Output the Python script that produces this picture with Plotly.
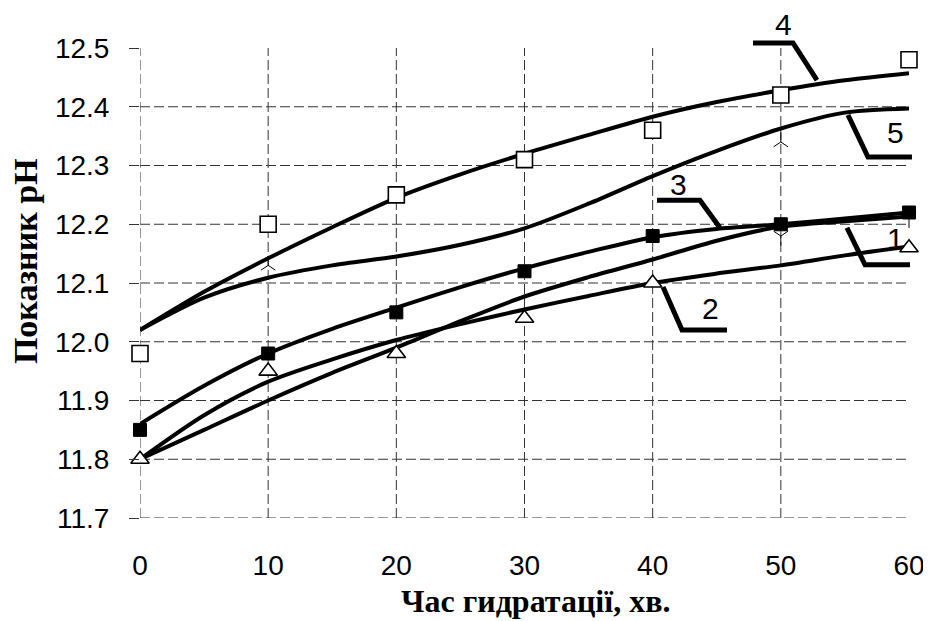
import plotly.graph_objects as go

# ---------------- data ----------------
time_pts = [0, 10, 20, 30, 40, 50, 60]
ph_sq_open = [11.98, 12.20, 12.25, 12.31, 12.36, 12.42, 12.48]      # series 4
ph_sq_fill = [11.85, 11.98, 12.05, 12.12, 12.18, 12.20, 12.22]      # series 3
tri_x = [0, 10, 20, 30, 40, 60]
ph_tri = [11.80, 11.95, 11.98, 12.04, 12.10, 12.16]                 # series 2
yup_x = [10, 50]
ph_yup = [12.13, 12.34]                                             # series 5
ydown_x = [50, 60]
ph_ydown = [12.18, 12.21]                                           # series 1

curve_x = [0, 5, 10, 15, 20, 25, 30, 35, 40, 45, 50, 55, 60]
curve4 = [12.02, 12.085, 12.142, 12.195, 12.245, 12.285, 12.320, 12.352, 12.383, 12.408, 12.428, 12.445, 12.457]
curve5 = [12.02, 12.075, 12.109, 12.130, 12.145, 12.165, 12.193, 12.235, 12.282, 12.325, 12.363, 12.390, 12.397]
curve3 = [11.86, 11.925, 11.980, 12.022, 12.058, 12.093, 12.125, 12.153, 12.178, 12.192, 12.200, 12.210, 12.220]
curve1 = [11.80, 11.850, 11.900, 11.947, 11.990, 12.035, 12.077, 12.110, 12.140, 12.172, 12.196, 12.205, 12.213]
curve2 = [11.80, 11.875, 11.932, 11.970, 12.003, 12.030, 12.055, 12.078, 12.100, 12.116, 12.130, 12.147, 12.162]

x_ticks = [0, 10, 20, 30, 40, 50, 60]
y_ticks = [11.7, 11.8, 11.9, 12.0, 12.1, 12.2, 12.3, 12.4, 12.5]
y_tick_text = ["11.7", "11.8", "11.9", "12.0", "12.1", "12.2", "12.3", "12.4", "12.5"]

curve_labels = ["4", "5", "3", "1", "2"]
# leader polylines (minutes, pH) and label positions
leaders = [
    [(47.83, 12.5085), (50.95, 12.5085), (52.82, 12.4455)],
    [(55.24, 12.386), (56.80, 12.3145), (60.23, 12.3145)],
    [(40.34, 12.241), (43.69, 12.241), (45.25, 12.194)],
    [(55.16, 12.194), (56.57, 12.131), (60.08, 12.131)],
    [(40.81, 12.093), (42.29, 12.020), (45.80, 12.020)],
]
label_pos = [(50.17, 12.540), (58.98, 12.357), (42.05, 12.267), (58.91, 12.175), (44.54, 12.057)]

X0, X1 = 0, 60
Y0, Y1 = 11.7, 12.5


def to_paper(x, y):
    return (x - X0) / (X1 - X0), (y - Y0) / (Y1 - Y0)


fig = go.Figure()

for cy in [curve4, curve5, curve3, curve1, curve2]:
    fig.add_trace(go.Scatter(x=curve_x, y=cy, mode="lines",
                             line=dict(color="black", width=4, shape="spline", smoothing=0.8),
                             showlegend=False, hoverinfo="skip"))

fig.add_trace(go.Scatter(x=time_pts, y=ph_sq_open, mode="markers", cliponaxis=False,
                         marker=dict(symbol="square", size=16, color="white",
                                     line=dict(color="black", width=1.6)), showlegend=False))
fig.add_trace(go.Scatter(x=time_pts, y=ph_sq_fill, mode="markers", cliponaxis=False,
                         marker=dict(symbol="square", size=13, color="black",
                                     line=dict(color="black", width=1)), showlegend=False))
fig.add_trace(go.Scatter(x=tri_x, y=ph_tri, mode="markers", cliponaxis=False,
                         marker=dict(symbol="triangle-up", size=16, color="white",
                                     line=dict(color="black", width=1.6)), showlegend=False))
fig.add_trace(go.Scatter(x=yup_x, y=ph_yup, mode="markers", cliponaxis=False,
                         marker=dict(symbol="y-up", size=12,
                                     line=dict(color="black", width=1)), showlegend=False))
fig.add_trace(go.Scatter(x=ydown_x, y=ph_ydown, mode="markers", cliponaxis=False,
                         marker=dict(symbol="y-down", size=12,
                                     line=dict(color="black", width=1)), showlegend=False))

grid_style = dict(color="#333", width=1, dash="10px,4px")
shapes = []
for xv in x_ticks[:-1]:
    shapes.append(dict(type="line", xref="x", yref="y", x0=xv, x1=xv, y0=Y0, y1=Y1,
                       line=grid_style, layer="below"))
for yv in y_ticks[:-1]:
    shapes.append(dict(type="line", xref="x", yref="y", x0=X0, x1=X1, y0=yv, y1=yv,
                       line=grid_style, layer="below"))

for pts in leaders:
    pp = [to_paper(x, y) for x, y in pts]
    path = "M " + " L ".join(f"{a:.5f},{b:.5f}" for a, b in pp)
    shapes.append(dict(type="path", xref="paper", yref="paper", path=path,
                       line=dict(color="black", width=5), layer="above"))

annotations = []
for lab, (lx, ly) in zip(curve_labels, label_pos):
    ax_, ay_ = to_paper(lx, ly)
    annotations.append(dict(x=ax_, y=ay_, xref="paper", yref="paper", text=lab, showarrow=False,
                            font=dict(family="Liberation Sans, Arial", size=30, color="black"),
                            xanchor="center", yanchor="middle"))

annotations.append(dict(x=0.514, y=-0.177, xref="paper", yref="paper", text="<b>Час гидратації, хв.</b>",
                        showarrow=False, xanchor="center", yanchor="middle",
                        font=dict(family="Liberation Serif, Times New Roman", size=32, color="black")))
annotations.append(dict(x=-0.148, y=0.547, xref="paper", yref="paper", text="<b>Показник рН</b>",
                        showarrow=False, xanchor="center", yanchor="middle", textangle=-90,
                        font=dict(family="Liberation Serif, Times New Roman", size=34, color="black")))

# the page body adds an 8px offset; margins are chosen so the plot area sits where the reference has it
fig.update_layout(
    width=931, height=621,
    margin=dict(l=132, r=30, t=40, b=111),
    paper_bgcolor="white", plot_bgcolor="white",
    shapes=shapes, annotations=annotations,
    xaxis=dict(range=[X0, X1], tickvals=x_ticks, ticks="", showline=False, zeroline=False,
               showgrid=False, automargin=False,
               tickfont=dict(family="Liberation Sans, Arial", size=28, color="black"),
               ticklabelstandoff=28),
    yaxis=dict(range=[Y0, Y1], tickvals=y_ticks, ticktext=y_tick_text, ticks="outside", ticklen=10,
               tickcolor="#333", showline=False, zeroline=False, showgrid=False, automargin=False,
               tickfont=dict(family="Liberation Sans, Arial", size=28, color="black"),
               ticklabelstandoff=14),
)

fig.write_html("out.html")
